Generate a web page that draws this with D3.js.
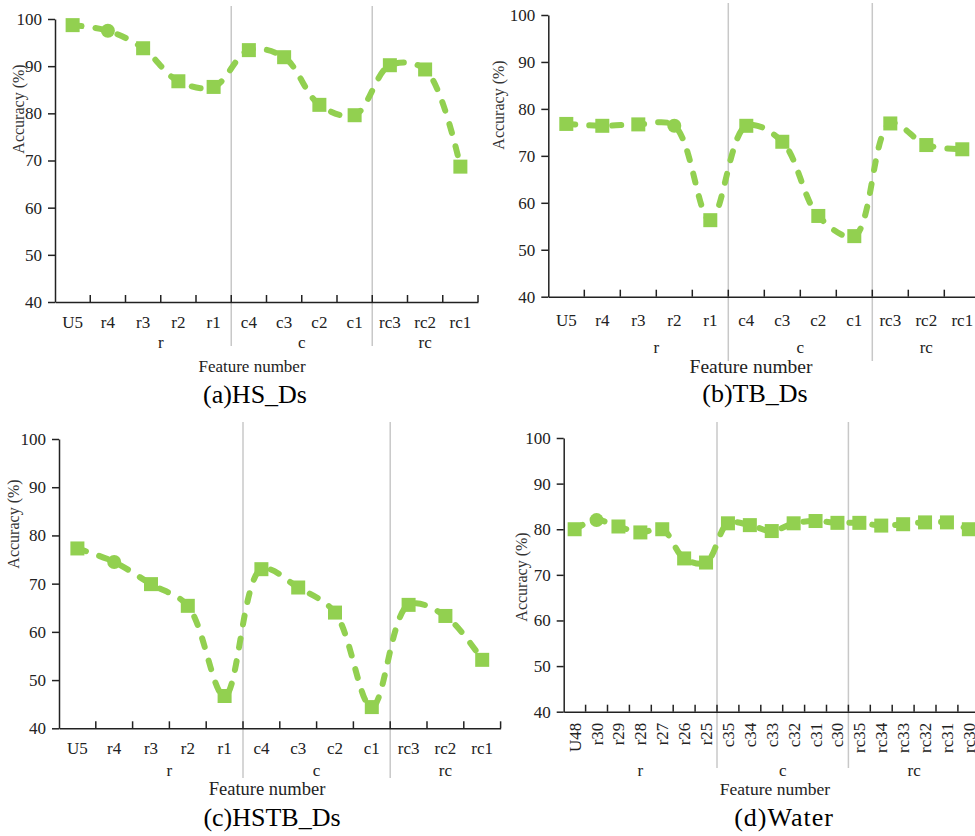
<!DOCTYPE html>
<html>
<head>
<meta charset="utf-8">
<script src="https://cdn.jsdelivr.net/npm/d3@7"></script>
<style>
  body { margin: 0; background: #fff; }
  svg { display: block; }
</style>
</head>
<body>
<svg id="chart" width="975" height="836"></svg>
<script>
// categories
const cats12 = ["U5", "r4", "r3", "r2", "r1", "c4", "c3", "c2", "c1", "rc3", "rc2", "rc1"]
const catsWater = ["U48", "r30", "r29", "r28", "r27", "r26", "r25",
                   "c35", "c34", "c33", "c32", "c31", "c30",
                   "rc35", "rc34", "rc33", "rc32", "rc31", "rc30"]

// accuracy values (%)
const hsDs   = [98.7, 97.5, 93.8, 86.8, 85.6, 93.4, 91.9, 81.8, 79.6, 90.2, 89.3, 68.7]
const tbDs   = [76.8, 76.4, 76.7, 76.4, 56.3, 76.4, 73.0, 57.2, 52.9, 76.9, 72.3, 71.4]
const hstbDs = [77.3, 74.5, 69.9, 65.4, 46.7, 73.0, 69.2, 64.0, 44.4, 65.6, 63.3, 54.2]
const water  = [80.0, 82.0, 80.6, 79.3, 80.0, 73.6, 72.7,
                81.3, 80.9, 79.6, 81.3, 81.8, 81.4,
                81.4, 80.8, 81.1, 81.5, 81.5, 80.0]

const yTicks = [40, 50, 60, 70, 80, 90, 100]

// groups: [label, first index, last index]
const groups12 = [["r", 1, 4], ["c", 5, 8], ["rc", 9, 11]]
const groupsWater = [["r", 0, 6], ["c", 7, 12], ["rc", 13, 18]]

const GREEN = "#92d050"
const FONT = "'Liberation Serif', 'Times New Roman', serif"

const svg = d3.select("#chart")

// panel layouts (pixel placement only)
const panels = [
    {cats: cats12, vals: hsDs, groups: groups12, circleIdx: 1, caption: "(a)HS_Ds",
     x0: 55, x1: 478, yTop: 19, yBot: 302, sepTop: 6, sepBot: 346,
     tickY: 26, groupY: 348, titleX: 252, titleY: 372, titleSize: 17, capX: 255, capY: 403,
     ylabX: 18, ylabY: 109, rotate: false},
    {cats: cats12, vals: tbDs, groups: groups12, circleIdx: 3, caption: "(b)TB_Ds",
     x0: 548.3, x1: 980.3, yTop: 15, yBot: 296.7, sepTop: 3, sepBot: 361,
     tickY: 29, groupY: 353, titleX: 751, titleY: 373, titleSize: 19.5, capX: 755, capY: 402,
     ylabX: 498, ylabY: 105, rotate: false},
    {cats: cats12, vals: hstbDs, groups: groups12, circleIdx: 1, caption: "(c)HSTB_Ds",
     x0: 59, x1: 500.6, yTop: 439, yBot: 728.3, sepTop: 422, sepBot: 778,
     tickY: 26, groupY: 776, titleX: 267, titleY: 795, titleSize: 18.5, capX: 272, capY: 826,
     ylabX: 13, ylabY: 524, rotate: false},
    {cats: catsWater, vals: water, groups: groupsWater, circleIdx: 1, caption: "(d)Water",
     x0: 563.7, x1: 979.8, yTop: 438, yBot: 711.7, sepTop: 422, sepBot: 768,
     tickY: 11, groupY: 776, titleX: 775, titleY: 795, titleSize: 17.5, capX: 784, capY: 826,
     ylabX: 521, ylabY: 577, rotate: true}
]

function drawPanel(p) {
    const g = svg.append("g")

    const x = d3.scaleBand().domain(p.cats).range([p.x0, p.x1]).padding(0)
    const y = d3.scaleLinear().domain([40, 100]).range([p.yBot, p.yTop])
    const bw = x.bandwidth()

    // gray group separators
    p.groups.slice(1).forEach(gr => {
        const sx = x(p.cats[gr[1]])
        g.append("line")
            .attr("x1", sx).attr("x2", sx)
            .attr("y1", p.sepTop).attr("y2", p.sepBot)
            .attr("stroke", "#c8c8c8").attr("stroke-width", 1.5)
    })

    // y axis
    const yAxis = g.append("g")
        .attr("transform", "translate(" + p.x0 + ",0)")
        .call(d3.axisLeft(y).tickValues(yTicks).tickSize(7).tickPadding(6).tickSizeOuter(0))
    yAxis.attr("font-family", FONT).attr("font-size", 17)
    yAxis.selectAll("text").attr("fill", "#222")
    yAxis.selectAll("line, path").attr("stroke", "#222").attr("stroke-width", 1.5)

    // x axis (labels at band centers, ticks at band edges)
    const xAxis = g.append("g")
        .attr("transform", "translate(0," + p.yBot + ")")
        .call(d3.axisBottom(x).tickSize(0).tickSizeOuter(0))
    xAxis.attr("font-family", FONT).attr("font-size", 17)
    xAxis.select(".domain").attr("stroke", "#222").attr("stroke-width", 1.5)
    if (p.rotate) {
        xAxis.selectAll("text")
            .attr("transform", "rotate(-90)")
            .attr("x", -p.tickY).attr("y", 0)
            .attr("dy", "0.35em")
            .attr("text-anchor", "end")
            .attr("fill", "#222")
    } else {
        xAxis.selectAll("text").attr("y", p.tickY).attr("dy", null).attr("fill", "#222")
    }

    g.selectAll(".xedge")
        .data(p.cats)
        .enter().append("line")
            .attr("x1", d => x(d) + bw).attr("x2", d => x(d) + bw)
            .attr("y1", p.yBot).attr("y2", p.yBot - 7)
            .attr("stroke", "#222").attr("stroke-width", 1.5)

    // group labels
    g.selectAll(".grp")
        .data(p.groups)
        .enter().append("text")
            .attr("x", d => (x(p.cats[d[1]]) + x(p.cats[d[2]]) + bw) / 2)
            .attr("y", p.groupY)
            .attr("text-anchor", "middle")
            .attr("font-family", FONT).attr("font-size", 17).attr("fill", "#222")
            .text(d => d[0])

    g.append("text")
        .attr("x", p.titleX).attr("y", p.titleY)
        .attr("text-anchor", "middle")
        .attr("font-family", FONT).attr("font-size", p.titleSize).attr("fill", "#222")
        .text("Feature number")

    g.append("text")
        .attr("transform", "translate(" + p.ylabX + "," + p.ylabY + ") rotate(-90)")
        .attr("text-anchor", "middle").attr("dy", "0.35em")
        .attr("font-family", FONT).attr("font-size", 16).attr("fill", "#333")
        .text("Accuracy (%)")

    g.append("text")
        .attr("x", p.capX).attr("y", p.capY)
        .attr("text-anchor", "middle")
        .attr("font-family", FONT).attr("font-size", 26).attr("fill", "#000")
        .attr("letter-spacing", p.rotate ? 1 : 0)
        .text(p.caption)

    // smoothed dashed line
    const pts = p.vals.map((v, i) => [x(p.cats[i]) + bw / 2, y(v)])
    const line = d3.line().curve(d3.curveCatmullRom.alpha(0.5))
    g.append("path")
        .attr("d", line(pts))
        .attr("fill", "none")
        .attr("stroke", GREEN)
        .attr("stroke-width", 6)
        .attr("stroke-linecap", "round")
        .attr("stroke-dasharray", "9,14")

    // markers
    const ms = 14
    g.selectAll(".sq")
        .data(pts.filter((d, i) => i !== p.circleIdx))
        .enter().append("rect")
            .attr("x", d => d[0] - ms / 2).attr("y", d => d[1] - ms / 2)
            .attr("width", ms).attr("height", ms)
            .attr("fill", GREEN)
    g.append("circle")
        .attr("cx", pts[p.circleIdx][0]).attr("cy", pts[p.circleIdx][1])
        .attr("r", 7)
        .attr("fill", GREEN)
}

panels.forEach(drawPanel)
</script>
</body>
</html>
